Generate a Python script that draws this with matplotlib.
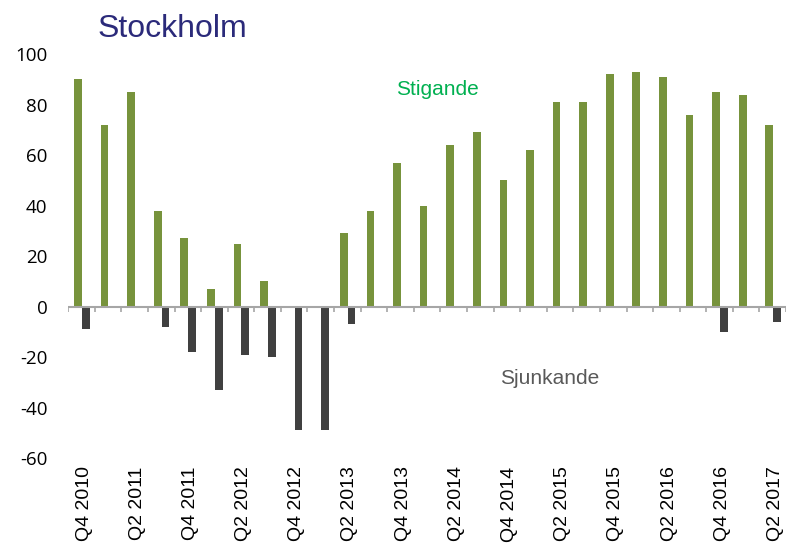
import matplotlib
matplotlib.use("Agg")
import matplotlib.pyplot as plt
import numpy as np

plt.rcParams['font.family'] = ['Liberation Sans', 'DejaVu Sans']
plt.rcParams['axes.unicode_minus'] = False

# quarters from Q4 2010 to Q2 2017
quarters = ['Q4 2010', 'Q1 2011', 'Q2 2011', 'Q3 2011', 'Q4 2011', 'Q1 2012',
            'Q2 2012', 'Q3 2012', 'Q4 2012', 'Q1 2013', 'Q2 2013', 'Q3 2013',
            'Q4 2013', 'Q1 2014', 'Q2 2014', 'Q3 2014', 'Q4 2014', 'Q1 2015',
            'Q2 2015', 'Q3 2015', 'Q4 2015', 'Q1 2016', 'Q2 2016', 'Q3 2016',
            'Q4 2016', 'Q1 2017', 'Q2 2017']
stigande = [90, 72, 85, 38, 27, 7, 25, 10, 0, 0, 29, 38, 57, 40, 64, 69,
            50, 62, 81, 81, 92, 93, 91, 76, 85, 84, 72]
sjunkande = [-9, 0, 0, -8, -18, -33, -19, -20, -49, -49, -7, 0, 0, 0, 0, 0,
             0, 0, 0, 0, 0, 0, 0, 0, -10, 0, -6]

green = '#77933C'
dark = '#404040'

fig = plt.figure(figsize=(7.88, 5.52), dpi=100)
ax = fig.add_axes([0.0865, 0.170, 0.911, 0.732])

x = np.arange(len(quarters))
w = 0.29
ax.bar(x - 0.13, stigande, width=w, color=green, zorder=2)
ax.bar(x + 0.16, sjunkande, width=w, color=dark, zorder=2)

ax.set_xlim(-0.5, len(quarters) - 0.5)
ax.set_ylim(-60, 100)
ax.set_yticks(range(-60, 101, 20))
ax.tick_params(axis='y', length=0, pad=15)
for lab in ax.get_yticklabels():
    lab.set_fontfamily('Open Sans')
    lab.set_fontsize(13.5)

ax.set_xticks(x[::2] + 0.1)
ax.set_xticklabels(quarters[::2], rotation=90, fontsize=14)
ax.tick_params(axis='x', length=0, pad=6)

for s in ax.spines.values():
    s.set_visible(False)

# zero line with category boundary ticks
ax.axhline(0, color='#A6A6A6', lw=1.5, zorder=3)
bounds = np.arange(len(quarters) + 1) - 0.5
ax.vlines(bounds, -2.2, 0, color='#A6A6A6', lw=1.2, zorder=3)

ax.text(13.4, 86, 'Stigande', color='#00B050', fontsize=15,
        ha='center', va='center')
ax.text(17.6, -28.5, 'Sjunkande', color='#595959', fontsize=15,
        ha='center', va='center')

fig.text(0.124, 0.933, 'Stockholm', color='#2B2A7A', fontsize=23,
         ha='left', va='baseline')

fig.savefig('out.png', dpi=100)
